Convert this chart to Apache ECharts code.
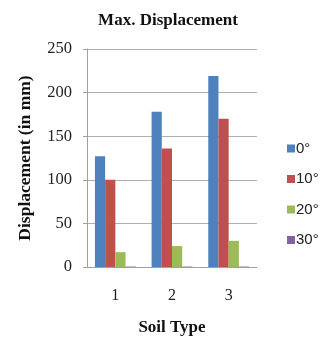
<!DOCTYPE html>
<html><head><meta charset="utf-8">
<script src="https://cdn.jsdelivr.net/npm/echarts@6/dist/echarts.min.js"></script>
<style>html,body{margin:0;padding:0;background:#fff}#c{width:321px;height:341px}</style>
</head><body><div id="c"></div>
<script>
const categories = ['1', '2', '3'];
const seriesNames = ['0°', '10°', '20°', '30°'];
const s0 = [127, 178, 219];
const s10 = [100, 136, 170];
const s20 = [17, 24, 30];
const s30 = [0.5, 0.5, 0.5];
const yTicks = [0, 50, 100, 150, 200, 250];

const colors = ['#4F81BD', '#C0504D', '#9BBB59', '#8064A2'];
const serif = '"Liberation Serif", "DejaVu Serif", serif';
const sans = '"Liberation Sans", Arial, sans-serif';
const chart = echarts.init(document.getElementById('c'));
const values = [s0, s10, s20, s30];
chart.setOption({
  animation: false,
  color: colors,
  title: { text: 'Max. Displacement', left: 163, textAlign: 'center', top: 7,
    textStyle: { fontFamily: serif, fontSize: 17, fontWeight: 'bold', color: '#111' } },
  legend: {
    orient: 'vertical', left: 282, top: 136, itemWidth: 8, itemHeight: 8, itemGap: 15.5,
    icon: 'rect',
    textStyle: { fontFamily: sans, fontSize: 15, color: '#222', padding: [0, 0, 0, -4] },
    data: seriesNames
  },
  grid: { left: 87, right: 64, top: 49, bottom: 74, containLabel: false },
  xAxis: {
    type: 'category', data: categories,
    name: 'Soil Type', nameLocation: 'middle', nameGap: 52,
    nameTextStyle: { fontFamily: serif, fontSize: 17, fontWeight: 'bold', color: '#111' },
    axisLine: { lineStyle: { color: '#a0a0a0' } },
    axisTick: { show: false },
    axisLabel: { fontFamily: serif, fontSize: 16, color: '#222', margin: 21 }
  },
  yAxis: {
    type: 'value', min: yTicks[0], max: yTicks[yTicks.length - 1], interval: 50,
    name: 'Displacement (in mm)', nameLocation: 'middle', nameGap: 53, nameRotate: 90,
    nameTextStyle: { fontFamily: serif, fontSize: 17.5, fontWeight: 'bold', color: '#111' },
    axisLine: { show: true, lineStyle: { color: '#a0a0a0' } },
    axisTick: { show: true, length: 4, lineStyle: { color: '#a0a0a0' } },
    splitLine: { lineStyle: { color: '#b0b0b0' } },
    axisLabel: { fontFamily: serif, fontSize: 16.5, color: '#222', margin: 15 }
  },
  series: seriesNames.map((n, i) => ({
    name: n, type: 'bar', data: values[i], barGap: '0%', barCategoryGap: '28%'
  }))
});
</script></body></html>
